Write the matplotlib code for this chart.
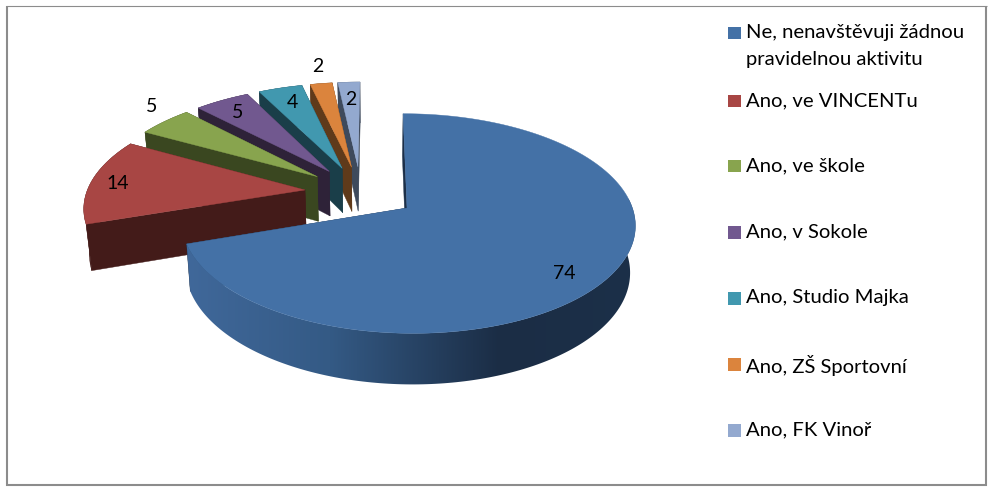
import numpy as np
import matplotlib
matplotlib.use("Agg")
import matplotlib.pyplot as plt
from matplotlib.colors import to_rgb
from matplotlib.patches import Polygon

categories = ["Ne, nenavštěvuji žádnou\npravidelnou aktivitu", "Ano, ve VINCENTu", "Ano, ve škole",
              "Ano, v Sokole", "Ano, Studio Majka", "Ano, ZŠ Sportovní", "Ano, FK Vinoř"]
values = [74, 14, 5, 5, 4, 2, 2]
top_colors = ["#4471A6", "#A84644", "#88A44E", "#71588F", "#4198AF", "#DB843D", "#93A9CF"]
wall_colors = ["#1C2F48", "#431B19", "#3A4720", "#2E2238", "#1A3E49", "#5F3A1A", "#3E4A5C"]

W, H = 996, 494
# projection of the pie plane onto the canvas (origin = apex of first slice)
OX, OY = 407.0, 208.0
A_X, A_Y, SHEAR, K, M = 224.5, 107.6, -4.5, 0.1415, 0.004
EXPLODE = 0.256
DEPTH, CONV, CONV_X = 46.0, 0.02, 370.0


def project(x, y):
    w = 1 + K * y - M * x
    return OX + (A_X * x + SHEAR * y) / w, OY - A_Y * y / w


def drop(x, y):
    sx, sy = project(x, y)
    w = 1 + K * y - M * x
    return sx + (CONV_X - sx) * CONV, OY + (sy - OY) * (1 - CONV) + DEPTH / w


fig = plt.figure(figsize=(W / 100, H / 100), dpi=100)
ax = fig.add_axes([0, 0, 1, 1])

frac = np.array(values, float) / sum(values)
edges = np.concatenate([[0], np.cumsum(frac)]) * 2 * np.pi
mid0 = (edges[0] + edges[1]) / 2
d0 = np.array([np.sin(mid0), np.cos(mid0)])

# horizontal shading of the first slice's outer wall
shade_stops = [(187, "#40689A"), (330, "#345A85"), (500, "#1B2D45"), (640, "#1C3049")]
shade_x = np.arange(180, 645)
shade_rgb = np.array([to_rgb(s[1]) for s in shade_stops])
shade = np.stack([np.interp(shade_x, [s[0] for s in shade_stops], shade_rgb[:, c]) for c in range(3)], axis=-1)[None, :, :]

for i in range(len(values) - 1, -1, -1):
    a0, a1 = edges[i], edges[i + 1]
    mid = (a0 + a1) / 2
    off = EXPLODE * (np.array([np.sin(mid), np.cos(mid)]) - d0)
    t = np.linspace(a0, a1, max(12, int((a1 - a0) * 60)))
    x = off[0] + np.sin(t)
    y = off[1] + np.cos(t)
    tx, ty = project(x, y)
    bx, by = drop(x, y)
    ax0, ay0 = project(*off)
    bx0, by0 = drop(*off)
    wc = wall_colors[i]
    ax.fill([ax0, tx[-1], bx[-1], bx0], [ay0, ty[-1], by[-1], by0], color=wc, lw=0.3, zorder=1)
    if i == 0:
        poly = Polygon(np.c_[np.r_[tx, bx[::-1]], np.r_[ty, by[::-1]]], closed=True, transform=ax.transData,
                       fc="none", ec="none")
        ax.add_patch(poly)
        im = ax.imshow(shade, extent=(shade_x[0], shade_x[-1], 400, 200), aspect="auto", zorder=1,
                       interpolation="bilinear")
        im.set_clip_path(poly)
    else:
        ax.fill(np.r_[tx, bx[::-1]], np.r_[ty, by[::-1]], color=wc, lw=0.3, zorder=1)
    ax.fill([ax0, tx[0], bx[0], bx0], [ay0, ty[0], by[0], by0], color=wc, lw=0.3, zorder=1)
    ax.fill(np.r_[ax0, tx], np.r_[ay0, ty], color=top_colors[i], lw=0.3, zorder=1.2 if i == 0 else 1)

FONT = "Lato"
# data labels
label_xy = [(564, 273), (118, 183), (152, 106), (238, 112), (292, 102), (318, 66), (351, 99)]
for v, (lx, ly) in zip(values, label_xy):
    ax.text(lx, ly, str(v), ha="center", va="center", fontsize=14, family=FONT, color="black", zorder=3)

# legend
legend_y = [33, 101, 166, 232, 298, 364, 430]
for name, col, ly in zip(categories, top_colors, legend_y):
    ax.fill([728, 740.5, 740.5, 728], [ly - 6, ly - 6, ly + 6.5, ly + 6.5], color=col, lw=0, zorder=2)
    ax.text(745.5, ly - 9, name, ha="left", va="top", fontsize=14.6, family=FONT, linespacing=1.68, color="black", zorder=3)

# frame
ax.plot([6, 987], [6.5, 6.5], color="#8C8C8C", lw=0.8, zorder=4, solid_capstyle="butt")
ax.plot([7, 7], [6, 486], color="#8C8C8C", lw=1.5, zorder=4, solid_capstyle="butt")
ax.plot([986, 986], [6, 486], color="#8C8C8C", lw=1.5, zorder=4, solid_capstyle="butt")
ax.plot([6, 987], [485, 485], color="#8C8C8C", lw=1.5, zorder=4, solid_capstyle="butt")

ax.set_xlim(0, W)
ax.set_ylim(H, 0)
ax.axis("off")

fig.savefig("out.png", dpi=100)
